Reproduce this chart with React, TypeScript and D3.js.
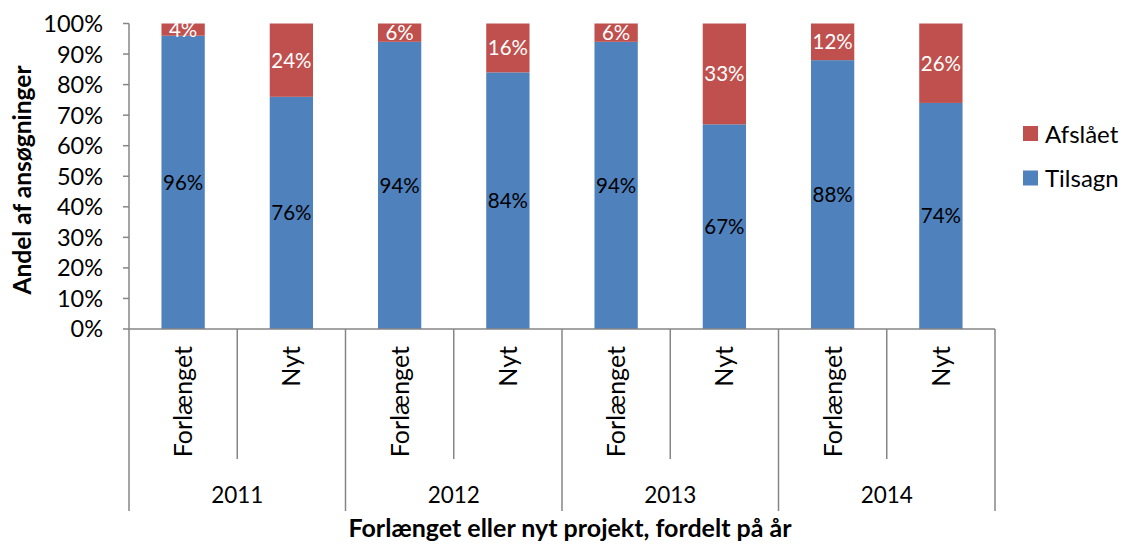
import React, { useEffect, useRef } from 'react';
import * as d3 from 'd3';

const years = ['2011', '2012', '2013', '2014'];
const types = ['Forlænget', 'Nyt'];
const tilsagn = [96, 76, 94, 84, 94, 67, 88, 74];
const afslaaet = [4, 24, 6, 16, 6, 33, 12, 26];
const yTicks = [0, 10, 20, 30, 40, 50, 60, 70, 80, 90, 100];

const W = 1123;
const H = 544;
const FONT = 'Lato, "Open Sans", sans-serif';

export default function App() {
  const ref = useRef<SVGSVGElement>(null);

  useEffect(() => {
    if (!ref.current) return;
    const svg = d3.select(ref.current);
    svg.selectAll('*').remove();

    const left = 129, right = 995, top = 23.5, bottom = 329;
    const axisColor = '#868686';

    const cats = years.flatMap(y => types.map(t => `${y}|${t}`));
    const rows = cats.map((c, i) => ({ key: c, year: c.split('|')[0], type: c.split('|')[1], tilsagn: tilsagn[i], afslaaet: afslaaet[i] }));

    const x = d3.scaleBand().domain(cats).range([left, right]).paddingInner(0.6).paddingOuter(0.3);
    const step = (right - left) / cats.length;
    const y = d3.scaleLinear().domain([0, 100]).range([bottom, top]);

    const g = svg.append('g').attr('font-family', FONT);

    // stacked bars
    const stack = d3.stack<any>().keys(['tilsagn', 'afslaaet'])(rows);
    const colors: Record<string, string> = { tilsagn: '#4F81BD', afslaaet: '#C0504D' };
    const labelColors: Record<string, string> = { tilsagn: '#000', afslaaet: '#fff' };

    stack.forEach(layer => {
      const lg = g.append('g');
      lg.selectAll('rect')
        .data(layer)
        .enter()
        .append('rect')
        .attr('x', d => x(d.data.key)!)
        .attr('width', x.bandwidth())
        .attr('y', d => y(d[1]))
        .attr('height', d => y(d[0]) - y(d[1]))
        .attr('fill', colors[layer.key]);
      lg.selectAll('text')
        .data(layer)
        .enter()
        .append('text')
        .attr('x', d => x(d.data.key)! + x.bandwidth() / 2)
        .attr('y', d => (y(d[0]) + y(d[1])) / 2)
        .attr('dy', '0.36em')
        .attr('text-anchor', 'middle')
        .attr('font-size', 20.5)
        .attr('fill', labelColors[layer.key])
        .text(d => `${d[1] - d[0]}%`);
    });

    // y axis
    g.append('line').attr('x1', left).attr('x2', left).attr('y1', top).attr('y2', bottom).attr('stroke', axisColor).attr('stroke-width', 1.5);
    g.selectAll('.ytick')
      .data(yTicks)
      .enter()
      .append('line')
      .attr('x1', left - 6).attr('x2', left)
      .attr('y1', d => y(d)).attr('y2', d => y(d))
      .attr('stroke', axisColor).attr('stroke-width', 1.5);
    g.selectAll('.ylab')
      .data(yTicks)
      .enter()
      .append('text')
      .attr('x', 103)
      .attr('y', d => y(d))
      .attr('dy', '0.36em')
      .attr('text-anchor', 'end')
      .attr('font-size', 23.5)
      .attr('fill', '#000')
      .text(d => `${d}%`);

    g.append('text')
      .attr('transform', `translate(31,180) rotate(-90)`)
      .attr('text-anchor', 'middle')
      .attr('font-size', 24.5)
      .attr('font-weight', 'bold')
      .text('Andel af ansøgninger');

    // x axis
    g.append('line').attr('x1', left).attr('x2', right).attr('y1', bottom).attr('y2', bottom).attr('stroke', axisColor).attr('stroke-width', 1.5);
    const bounds = d3.range(cats.length + 1).map(i => left + i * step);
    g.selectAll('.xsep')
      .data(bounds)
      .enter()
      .append('line')
      .attr('x1', d => d).attr('x2', d => d)
      .attr('y1', bottom)
      .attr('y2', (d, i) => (i % 2 === 0 ? 511 : 459))
      .attr('stroke', axisColor).attr('stroke-width', 1.5);

    g.selectAll('.xlab')
      .data(rows)
      .enter()
      .append('text')
      .attr('transform', d => `translate(${x(d.key)! + x.bandwidth() / 2},346) rotate(-90)`)
      .attr('dy', '0.36em')
      .attr('text-anchor', 'end')
      .attr('font-size', 25)
      .text(d => d.type);

    g.selectAll('.year')
      .data(years)
      .enter()
      .append('text')
      .attr('x', (d, i) => left + (i * 2 + 1) * step)
      .attr('y', 495)
      .attr('dy', '0.36em')
      .attr('text-anchor', 'middle')
      .attr('font-size', 22.5)
      .text(d => d);

    g.append('text')
      .attr('x', 570)
      .attr('y', 537)
      .attr('text-anchor', 'middle')
      .attr('font-size', 25)
      .attr('font-weight', 'bold')
      .text('Forlænget eller nyt projekt, fordelt på år');

    // legend
    const legend = [
      { key: 'afslaaet', label: 'Afslået', y: 134 },
      { key: 'tilsagn', label: 'Tilsagn', y: 178.5 },
    ];
    const lg = g.selectAll('.leg').data(legend).enter().append('g');
    lg.append('rect')
      .attr('x', 1023).attr('y', d => d.y - 8)
      .attr('width', 15).attr('height', 15)
      .attr('fill', d => colors[d.key]);
    lg.append('text')
      .attr('x', 1045).attr('y', d => d.y)
      .attr('dy', '0.36em')
      .attr('font-size', 24)
      .text(d => d.label);
  }, []);

  return (
    <svg ref={ref} width={W} height={H} style={{ position: 'absolute', left: 0, top: 0, background: '#fff' }} />
  );
}
